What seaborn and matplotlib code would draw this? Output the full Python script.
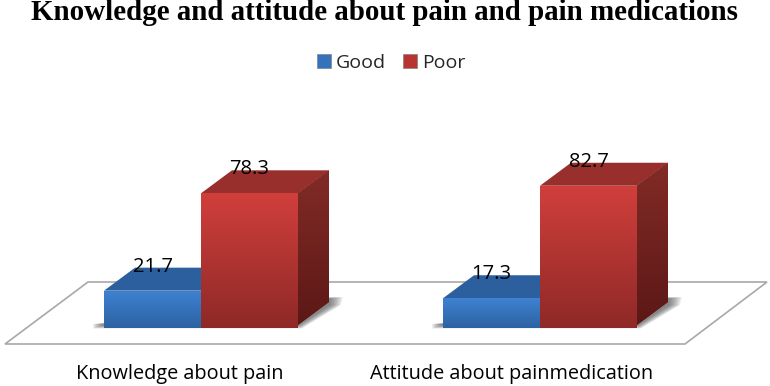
import matplotlib
matplotlib.use('Agg')
import matplotlib.pyplot as plt
from matplotlib.colors import LinearSegmentedColormap
from matplotlib.patches import Polygon
import numpy as np
import pandas as pd
import seaborn as sns

categories = ['Knowledge about pain', 'Attitude about painmedication']
series_names = ['Good', 'Poor']
good_values = [21.7, 17.3]
poor_values = [78.3, 82.7]

W, H = 770, 386
PX_X = 339.0   # pixels per category step
PX_Y = 1.72    # pixels per percent
BASE_Y = 325   # pixel row of the bar feet
BASE_VAL = 1.74
DX, DY = 31 / PX_X, 23 / PX_Y

FRONT = {'Good': ('#3f82d2', '#2c62a2'), 'Poor': ('#d03f3c', '#8f2927')}
TOPS = {'Good': '#2c5f9e', 'Poor': '#982f2d'}
SIDES = {'Good': ('#27578f', '#1e4471'), 'Poor': ('#822b27', '#5c1816')}


def px(points):
    # pixel coordinates (top-left origin) to figure fraction
    return [(x / W, 1 - y / H) for x, y in points]


def gradient(ax, patch, top, bottom, zorder):
    x0, y0, x1, y1 = patch.get_path().transformed(patch.get_patch_transform()).get_extents().extents
    cmap = LinearSegmentedColormap.from_list('g', [top, bottom])
    im = ax.imshow(np.linspace(0, 1, 64).reshape(-1, 1), extent=(x0, x1, y0, y1), origin='upper',
                   aspect='auto', cmap=cmap, zorder=zorder, interpolation='bilinear')
    im.set_clip_path(patch)
    return im


df = pd.DataFrame({
    'category': categories * 2,
    'series': [series_names[0]] * 2 + [series_names[1]] * 2,
    'value': good_values + poor_values,
})

sns.set_theme(style='white')
plt.rcParams['font.family'] = ['Open Sans', 'DejaVu Sans']

fig = plt.figure(figsize=(W / 100, H / 100), dpi=100)
ax = fig.add_axes([0, (H - BASE_Y) / H, 1, BASE_Y / H])

sns.barplot(data=df, x='category', y='value', hue='series', hue_order=series_names,
            palette={'Good': '#3572bb', 'Poor': '#b83431'}, width=0.572, gap=0,
            saturation=1, linewidth=0, ax=ax, zorder=3)

xlim = (-201 / PX_X, (W - 201) / PX_X)
ylim = (BASE_VAL, BASE_VAL + BASE_Y / PX_Y)

# the plot floor
ax.add_patch(Polygon(px([(5, 344), (88, 282), (767, 282), (685, 344)]), closed=True, fc='white',
                     ec='#a8a8a8', lw=1.2, transform=fig.transFigure, clip_on=False, zorder=0.5))

# soft shadow on the floor, then the 3D faces of each bar
for group in range(len(categories)):
    left = ax.containers[0][group].get_x()
    right = ax.containers[1][group].get_x() + ax.containers[1][group].get_width()
    x0 = left * PX_X + 201
    x1 = right * PX_X + 201
    for t in np.linspace(1, 0.1, 10):
        ax.add_patch(Polygon(px([(x0 - 11 * t, BASE_Y - 1), (x1 + 31 + 14 * t, BASE_Y - 28),
                                 (x1 + 31 + 12 * t, BASE_Y - 20),
                                 (x1 + 4 * t, BASE_Y + 3.5 * t), (x0 - 11 * t, BASE_Y + 3.5 * t)]),
                             closed=True, fc='#404040', ec='none', alpha=0.09, lw=0,
                             transform=fig.transFigure, clip_on=False, zorder=0.6))

for name, container in zip(series_names, ax.containers):
    base_z = 1 if name == 'Good' else 2
    for bar in container:
        x0, x1 = bar.get_x(), bar.get_x() + bar.get_width()
        y1 = bar.get_height()
        top = Polygon([(x0, y1), (x0 + DX, y1 + DY), (x1 + DX, y1 + DY), (x1, y1)], closed=True,
                      fc=TOPS[name], ec='none', zorder=base_z)
        side = Polygon([(x1, BASE_VAL), (x1 + DX, BASE_VAL + DY), (x1 + DX, y1 + DY), (x1, y1)], closed=True,
                       fc=SIDES[name][1], ec='none', zorder=base_z)
        ax.add_patch(top)
        ax.add_patch(side)
        gradient(ax, side, SIDES[name][0], SIDES[name][1], base_z + 0.1)
        bar.set_zorder(base_z + 0.2)
        gradient(ax, bar, FRONT[name][0], FRONT[name][1], base_z + 0.3)
    ax.bar_label(container, fmt='%.1f', padding=10, fontsize=14.5, color='black', zorder=10)

ax.set_xlim(xlim)
ax.set_ylim(ylim)
ax.set_xlabel('')
ax.set_ylabel('')
ax.set_yticks([])
ax.set_xticks([-21 / PX_X, 1 - 28 / PX_X])
ax.set_xticklabels(categories, fontsize=14.3, color='black')
ax.tick_params(axis='x', length=0, pad=28)
sns.despine(ax=ax, left=True, bottom=True)
ax.patch.set_alpha(0)

leg = ax.legend(loc='center', bbox_to_anchor=(391.5 / W, 1 - 63 / H), bbox_transform=fig.transFigure, ncol=2,
                frameon=False, fontsize=14, handlelength=0.72, handleheight=0.72, handletextpad=0.26,
                columnspacing=0.88, borderpad=0, title=None)
for handle in leg.legend_handles:
    handle.set_edgecolor('#777777')
    handle.set_linewidth(0.4)

fig.text(384.5 / W, 1 - 13 / H, 'Knowledge and attitude about pain and pain medications', ha='center', va='center',
         fontsize=20.9, fontweight='bold', family='Liberation Serif', color='black')

fig.savefig('out.png', dpi=100, facecolor='white')
